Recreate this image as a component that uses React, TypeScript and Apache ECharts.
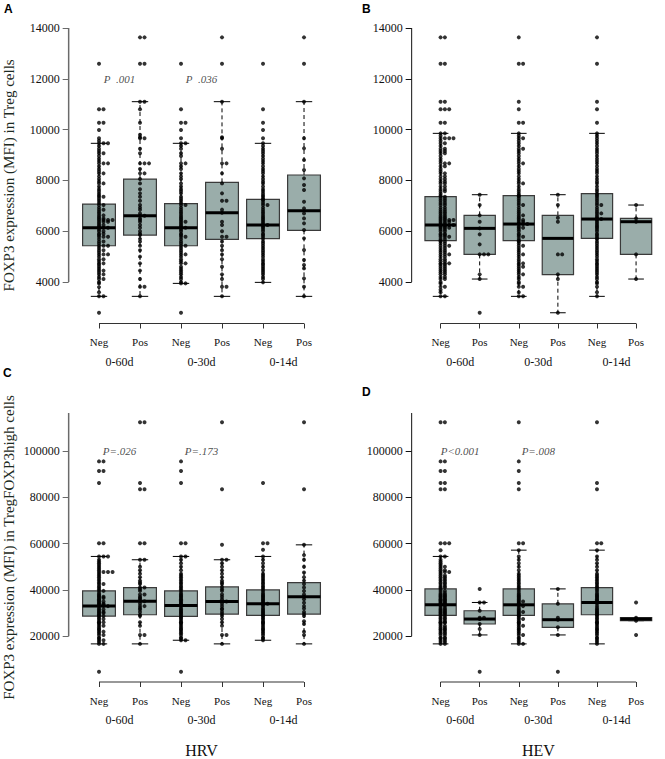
import React, { useEffect, useRef } from "react";
import * as echarts from "echarts";

// ---------- categories / ticks ----------
const CAT_POS = [1, 2, 3, 4, 5, 6];
const CAT_LABELS = ["Neg", "Pos", "Neg", "Pos", "Neg", "Pos"];
const PERIODS = ["0-60d", "0-30d", "0-14d"];
const PERIOD_POS = [1.5, 3.5, 5.5];
const TICKS_AB = [4000, 6000, 8000, 10000, 12000, 14000];
const TICKS_CD = [20000, 40000, 60000, 80000, 100000];

// ---------- box statistics (lower whisker, Q1, median, Q3, upper whisker) ----------
const A_LOW = [3437, 3437, 3947, 3437, 3987, 3437];
const A_Q1 = [5429, 5850, 5429, 5680, 5706, 6034];
const A_MED = [6138, 6612, 6138, 6730, 6244, 6808];
const A_Q3 = [7071, 8055, 7084, 7924, 7254, 8213];
const A_HIGH = [9461, 11100, 9461, 11100, 9461, 11100];

const B_LOW = [3437, 4118, 3437, 2791, 3437, 4118];
const B_Q1 = [5627, 5089, 5627, 4289, 5719, 5089];
const B_MED = [6244, 6113, 6283, 5719, 6480, 6375];
const B_Q3 = [7360, 6625, 7399, 6625, 7478, 6506];
const B_HIGH = [9853, 7438, 9853, 7438, 9853, 7031];

const C_LOW = [16714, 16714, 18286, 16714, 18286, 16714];
const C_Q1 = [28714, 29286, 28571, 29571, 29000, 29571];
const C_MED = [33000, 35143, 33286, 35000, 34000, 37000];
const C_Q3 = [39571, 41000, 39571, 41286, 40000, 43143];
const C_HIGH = [54429, 53000, 54429, 53000, 54429, 59429];

const D_LOW = [16714, 20571, 16714, 20571, 16714, 26714];
const D_Q1 = [29000, 25286, 29000, 23857, 29286, 26714];
const D_MED = [33571, 27429, 33571, 27143, 34571, 27429];
const D_Q3 = [40429, 31000, 40429, 34000, 41000, 28000];
const D_HIGH = [54429, 34571, 57143, 40429, 57143, 28000];

// ---------- individual observations ----------
const A_NEG60 = [2791, 3437, 3437, 3600, 3800, 3947, 4000, 4118, 4118, 4200, 4302, 4302, 4380, 4450, 4450, 4520, 4600, 4680, 4735, 4735, 4820, 4900, 4900, 5000, 5089, 5089, 5089, 5170, 5250, 5250, 5340, 5429, 5429, 5429, 5520, 5600, 5600, 5690, 5785, 5785, 5785, 5850, 5900, 5900, 6000, 6000, 6070, 6138, 6138, 6138, 6190, 6244, 6244, 6310, 6375, 6375, 6375, 6440, 6440, 6440, 6440, 6500, 6500, 6560, 6625, 6625, 6703, 6770, 6850, 6850, 6930, 7031, 7031, 7110, 7200, 7280, 7360, 7360, 7420, 7491, 7570, 7650, 7760, 7884, 7884, 7960, 8055, 8160, 8278, 8278, 8360, 8450, 8560, 8672, 8672, 8672, 8760, 8850, 8960, 9066, 9066, 9160, 9250, 9360, 9461, 9461, 9461, 9560, 9657, 9984, 10273, 10273, 10798, 10798, 12594];
const A_POS60 = [3437, 3815, 3815, 4118, 4450, 4735, 5000, 5250, 5429, 5600, 5700, 5850, 5900, 6000, 6138, 6244, 6375, 6440, 6500, 6612, 6612, 6703, 6850, 6930, 7031, 7200, 7360, 7491, 7650, 7884, 8055, 8278, 8278, 8450, 8672, 8672, 8672, 9066, 9250, 9657, 9657, 9700, 9800, 10273, 10798, 11100, 11100, 12594, 12594, 13632, 13632];
const A_NEG30 = [2791, 3947, 3947, 4000, 4118, 4200, 4302, 4380, 4450, 4520, 4600, 4735, 4735, 4820, 4900, 5000, 5089, 5089, 5170, 5250, 5340, 5429, 5429, 5520, 5600, 5690, 5785, 5785, 5850, 5900, 6000, 6070, 6138, 6138, 6190, 6244, 6310, 6375, 6375, 6440, 6500, 6560, 6625, 6703, 6770, 6850, 6930, 7031, 7031, 7110, 7200, 7280, 7360, 7491, 7570, 7650, 7760, 7884, 8055, 8160, 8278, 8450, 8560, 8672, 8672, 8960, 9066, 9250, 9360, 9461, 9461, 9657, 9984, 10273, 10273, 10798, 12594];
const A_POS30 = [3437, 3815, 3815, 4118, 4302, 4600, 4900, 5089, 5250, 5429, 5600, 5785, 5785, 6000, 6244, 6375, 6730, 6850, 7200, 7200, 7491, 7884, 8278, 8672, 8672, 9250, 9657, 9700, 11100, 12594, 13632];
const A_NEG14 = [3987, 4118, 4200, 4302, 4380, 4450, 4520, 4600, 4680, 4735, 4820, 4900, 5000, 5089, 5170, 5250, 5340, 5429, 5520, 5600, 5706, 5785, 5850, 5900, 6000, 6070, 6138, 6190, 6244, 6244, 6310, 6375, 6440, 6500, 6560, 6625, 6703, 6770, 6850, 6930, 7031, 7031, 7110, 7200, 7254, 7280, 7360, 7420, 7491, 7570, 7650, 7760, 7884, 7960, 8055, 8160, 8278, 8360, 8450, 8560, 8672, 8760, 8850, 8960, 9066, 9160, 9250, 9360, 9461, 9657, 9984, 10273, 10798, 12594];
const A_POS14 = [3437, 3815, 4144, 4538, 4669, 4866, 5260, 5719, 6047, 6310, 6506, 6703, 6900, 7163, 7622, 7819, 8081, 8409, 8803, 9262, 9657, 11100, 12594, 13632];

const B_NEG60 = [3437, 3437, 3600, 3700, 3815, 3815, 3947, 4000, 4118, 4118, 4200, 4200, 4302, 4302, 4380, 4380, 4450, 4450, 4520, 4520, 4600, 4600, 4680, 4680, 4735, 4735, 4735, 4820, 4820, 4900, 4900, 5000, 5000, 5089, 5089, 5089, 5170, 5170, 5250, 5250, 5340, 5340, 5429, 5429, 5429, 5520, 5520, 5600, 5600, 5627, 5690, 5690, 5785, 5785, 5785, 5850, 5850, 5900, 5900, 6000, 6000, 6070, 6070, 6138, 6138, 6138, 6190, 6190, 6244, 6244, 6244, 6244, 6310, 6310, 6375, 6375, 6375, 6440, 6440, 6440, 6440, 6500, 6500, 6560, 6560, 6625, 6625, 6703, 6703, 6770, 6770, 6850, 6850, 6930, 6930, 7031, 7031, 7110, 7110, 7200, 7200, 7280, 7280, 7360, 7360, 7420, 7491, 7570, 7570, 7650, 7650, 7760, 7760, 7884, 7884, 7960, 7960, 8055, 8055, 8160, 8160, 8278, 8278, 8360, 8450, 8560, 8560, 8672, 8672, 8672, 8760, 8850, 8960, 9066, 9066, 9160, 9160, 9250, 9250, 9360, 9461, 9461, 9560, 9657, 9657, 9657, 9657, 9760, 9853, 9853, 10273, 10273, 10798, 10798, 10798, 11100, 11100, 12594, 12594, 13632, 13632];
const B_POS60 = [2791, 4118, 4302, 5089, 5089, 5089, 5483, 5877, 6113, 6375, 6625, 7031, 7438];
const B_NEG30 = [3437, 3437, 3600, 3815, 3815, 3947, 4000, 4118, 4200, 4302, 4302, 4380, 4450, 4520, 4600, 4600, 4680, 4735, 4735, 4820, 4900, 5000, 5089, 5089, 5170, 5250, 5340, 5429, 5429, 5520, 5600, 5627, 5690, 5785, 5785, 5850, 5900, 6000, 6070, 6138, 6138, 6190, 6283, 6283, 6283, 6310, 6375, 6375, 6440, 6440, 6500, 6560, 6625, 6625, 6703, 6770, 6850, 6930, 7031, 7031, 7110, 7200, 7280, 7360, 7399, 7420, 7491, 7570, 7650, 7760, 7884, 7884, 7960, 8055, 8160, 8278, 8360, 8450, 8560, 8672, 8672, 8760, 8850, 8960, 9066, 9160, 9250, 9250, 9360, 9461, 9560, 9657, 9657, 9760, 9853, 10273, 10273, 10798, 11100, 12594, 12594, 13632];
const B_POS30 = [2791, 4118, 4302, 5089, 5089, 6375, 6533, 7031, 7438];
const B_NEG14 = [3437, 3600, 3815, 3947, 4000, 4118, 4200, 4302, 4380, 4450, 4520, 4600, 4680, 4735, 4820, 4900, 5000, 5089, 5170, 5250, 5340, 5429, 5520, 5600, 5690, 5719, 5785, 5850, 5900, 6000, 6070, 6138, 6190, 6244, 6310, 6375, 6440, 6480, 6480, 6500, 6560, 6625, 6703, 6703, 6770, 6850, 6930, 7031, 7031, 7110, 7200, 7280, 7360, 7420, 7478, 7570, 7650, 7760, 7884, 7960, 8055, 8160, 8278, 8360, 8450, 8560, 8672, 8760, 8850, 8960, 9066, 9160, 9250, 9360, 9461, 9560, 9657, 9760, 9853, 10273, 10798, 11100, 12594, 13632];
const B_POS14 = [4118, 5089, 6375, 6506, 7031];

const C_NEG60 = [4714, 16714, 16714, 17500, 18286, 18286, 19000, 19500, 20571, 20571, 21300, 22000, 22000, 22700, 23143, 23800, 24500, 24500, 25286, 25800, 26000, 26000, 26700, 27429, 27429, 28000, 28714, 28714, 29000, 29500, 30000, 30000, 30500, 30500, 31000, 31500, 31500, 32200, 33000, 33000, 33000, 33600, 33600, 34000, 34000, 34500, 35000, 35000, 35500, 36000, 36500, 36500, 37000, 37000, 37500, 38000, 38700, 39571, 39571, 40300, 41000, 41700, 42500, 42500, 43200, 44000, 44700, 45500, 46200, 47000, 47714, 47714, 47714, 47714, 48500, 49200, 50000, 50700, 51500, 52200, 53000, 54429, 54429, 54429, 60143, 60143, 86143, 91286, 91286, 95429, 95429];
const C_POS60 = [16714, 20571, 20571, 24500, 26000, 28714, 29286, 30500, 31500, 32200, 33000, 33000, 34000, 35143, 35143, 36000, 36500, 37000, 38000, 38000, 39571, 40300, 41000, 41000, 42500, 43200, 44000, 45500, 47000, 48500, 50000, 53000, 53000, 60143, 60143, 83429, 83429, 86143, 112286, 112286];
const C_NEG30 = [4714, 18286, 18286, 19000, 19500, 20571, 21300, 22000, 22700, 23143, 23800, 24500, 25286, 25800, 26000, 26700, 27429, 28000, 28571, 28714, 29500, 30000, 30500, 31000, 31500, 32200, 33000, 33286, 33600, 34000, 34500, 35000, 35500, 36000, 36500, 37000, 37500, 38000, 38700, 39571, 40300, 41000, 41700, 42500, 43200, 44000, 44700, 45500, 46200, 47000, 48500, 50000, 51500, 53000, 54429, 54429, 60143, 60143, 86143, 91286, 95429];
const C_POS30 = [16714, 20571, 20571, 24500, 26000, 27429, 28714, 29571, 30500, 31500, 32000, 33000, 34000, 35000, 35000, 36000, 37000, 38000, 39571, 40300, 41286, 42500, 43200, 44000, 45500, 47000, 48500, 50000, 51500, 53000, 53000, 59429, 83429, 112286];
const C_NEG14 = [18286, 19000, 19500, 20571, 21300, 22000, 22700, 23143, 23800, 24500, 25286, 25800, 26000, 26700, 27429, 28000, 28714, 29000, 29500, 30000, 30500, 31000, 31500, 32200, 33000, 33600, 34000, 34000, 34500, 35000, 35500, 36000, 36500, 37000, 37500, 38000, 38700, 39571, 40300, 41000, 41700, 42500, 43200, 44000, 44700, 45500, 46200, 47000, 48500, 50000, 51500, 53000, 54429, 57286, 60143, 60143, 86143];
const C_POS14 = [16714, 20571, 22000, 25286, 26500, 28714, 29571, 30500, 32000, 33000, 34500, 36000, 37000, 38000, 39500, 41000, 42500, 44000, 45500, 47500, 50000, 53000, 55000, 59429, 83429, 112286];

const D_NEG60 = [16714, 16714, 17500, 17500, 18286, 18286, 19000, 19000, 19500, 19500, 20571, 20571, 21300, 21300, 22000, 22000, 22700, 22700, 23143, 23143, 23800, 23800, 24500, 24500, 25286, 25800, 25800, 26000, 26000, 26700, 26700, 27429, 27429, 28000, 28000, 28714, 28714, 29500, 29500, 30000, 30000, 30500, 30500, 31000, 31000, 31500, 31500, 32200, 32200, 33000, 33000, 33571, 33571, 34000, 34000, 34500, 34500, 35000, 35000, 35500, 35500, 36000, 36000, 36500, 36500, 37000, 37000, 37500, 37500, 38000, 38000, 38700, 38700, 39571, 39571, 40429, 41000, 41000, 41700, 41700, 42500, 42500, 43200, 43200, 44000, 44000, 44700, 44700, 45500, 45500, 46200, 46200, 47000, 47714, 47714, 47714, 48500, 48500, 49200, 50000, 50000, 50700, 51500, 52200, 53000, 54429, 54429, 57143, 60143, 60143, 60143, 83429, 83429, 86143, 86143, 91286, 91286, 95429, 95429, 112286, 112286];
const D_POS60 = [4714, 20571, 23143, 25286, 27429, 28000, 28000, 31000, 34571, 34571, 40429];
const D_NEG30 = [16714, 16714, 17500, 18286, 19000, 19500, 20571, 20571, 21300, 22000, 22700, 23143, 23800, 24500, 24500, 25286, 25800, 26000, 26700, 27429, 27429, 28000, 28714, 29000, 29500, 30000, 30500, 30500, 31000, 31500, 32200, 33000, 33000, 33571, 34000, 34500, 35000, 35000, 35500, 36000, 36500, 37000, 37500, 38000, 38700, 39571, 40429, 41000, 41700, 42500, 43200, 44000, 44700, 45500, 46200, 47000, 48500, 50000, 51500, 53000, 54429, 57143, 60143, 60143, 83429, 86143, 91286, 95429, 112286];
const D_POS30 = [4714, 20571, 23857, 27143, 28000, 34000, 40429];
const D_NEG14 = [16714, 17500, 18286, 19000, 19500, 20571, 21300, 22000, 22700, 23143, 23800, 24500, 25286, 25800, 26000, 26700, 27429, 28000, 28714, 29286, 29500, 30000, 30500, 31000, 31500, 32200, 33000, 34000, 34571, 35000, 35500, 36000, 36500, 37000, 37500, 38000, 38700, 39571, 40300, 41000, 41700, 42500, 43200, 44000, 44700, 45500, 46200, 47000, 48500, 50000, 51500, 53000, 54429, 57143, 60143, 60143, 83429, 86143, 112286];
const D_POS14 = [20571, 26714, 27429, 28000, 34571];

// ---------- annotations ----------
const A_P = ["P  .001", "P  .036"];
const C_P = ["P=.026", "P=.173"];
const D_P = ["P<0.001", "P=.008"];
const P_POS = [1.5, 3.5];

// ---------- styling / layout ----------
const X_MIN = 0.26;
const X_MAX = 6.74;
const BOX_WIDTH = 0.8;
const STACK_STEP = 0.11;
const BOX_FILL = "#9aadaa";
const SERIF = "Liberation Serif";

type Panel = {
  letter: string;
  letterX: number;
  letterY: number;
  left: number;
  top: number;
  width: number;
  height: number;
  yMin: number;
  yMax: number;
  ticks: number[];
  axisTop: number;
  title: string | null;
  stats: number[][];
  groups: number[][];
  pLabels: string[] | null;
  pY: number;
  virus: string | null;
  yAxisColor: string;
  yAxisWidth: number;
};

const PANELS: Panel[] = [
  {
    letter: "A", letterX: 4, letterY: 3,
    left: 68.66, top: 27.2, width: 265.7, height: 296.3,
    yMin: 2368, yMax: 14032, ticks: TICKS_AB, axisTop: 14000,
    title: "FOXP3 expression (MFI) in Treg cells",
    stats: [A_LOW, A_Q1, A_MED, A_Q3, A_HIGH],
    groups: [A_NEG60, A_POS60, A_NEG30, A_POS30, A_NEG14, A_POS14],
    pLabels: A_P, pY: 12000, virus: null, yAxisColor: "#6a6a6a", yAxisWidth: 1.5,
  },
  {
    letter: "B", letterX: 362, letterY: 3,
    left: 411.66, top: 27.2, width: 265.7, height: 296.3,
    yMin: 2368, yMax: 14032, ticks: TICKS_AB, axisTop: 14000,
    title: null,
    stats: [B_LOW, B_Q1, B_MED, B_Q3, B_HIGH],
    groups: [B_NEG60, B_POS60, B_NEG30, B_POS30, B_NEG14, B_POS14],
    pLabels: null, pY: 12000, virus: null, yAxisColor: "#111", yAxisWidth: 1,
  },
  {
    letter: "C", letterX: 3, letterY: 367,
    left: 68.66, top: 413, width: 265.7, height: 272,
    yMin: 273, yMax: 116297, ticks: TICKS_CD, axisTop: 116297,
    title: "FOXP3 expression (MFI) in TregFOXP3high cells",
    stats: [C_LOW, C_Q1, C_MED, C_Q3, C_HIGH],
    groups: [C_NEG60, C_POS60, C_NEG30, C_POS30, C_NEG14, C_POS14],
    pLabels: C_P, pY: 100000, virus: "HRV", yAxisColor: "#6a6a6a", yAxisWidth: 1.5,
  },
  {
    letter: "D", letterX: 362, letterY: 386,
    left: 411.66, top: 413, width: 265.7, height: 272,
    yMin: 273, yMax: 116297, ticks: TICKS_CD, axisTop: 116297,
    title: null,
    stats: [D_LOW, D_Q1, D_MED, D_Q3, D_HIGH],
    groups: [D_NEG60, D_POS60, D_NEG30, D_POS30, D_NEG14, D_POS14],
    pLabels: D_P, pY: 100000, virus: "HEV", yAxisColor: "#111", yAxisWidth: 1,
  },
];

function stackPoints(pos: number, values: number[]): number[][] {
  const seen = new Map<number, number>();
  return values.map((v) => {
    const k = seen.get(v) || 0;
    seen.set(v, k + 1);
    return [pos + k * STACK_STEP, v];
  });
}

function renderBox(params: any, api: any) {
  const x = api.value(0);
  const lo = api.coord([x, api.value(1)]);
  const q1 = api.coord([x, api.value(2)]);
  const md = api.coord([x, api.value(3)]);
  const q3 = api.coord([x, api.value(4)]);
  const hi = api.coord([x, api.value(5)]);
  const w = api.size([BOX_WIDTH, 0])[0];
  const cx = md[0];
  const dash = { stroke: "#000", lineWidth: 1, lineDash: [4, 3] };
  const solid = { stroke: "#000", lineWidth: 1 };
  return {
    type: "group",
    children: [
      { type: "line", shape: { x1: cx, y1: q3[1], x2: cx, y2: hi[1] }, style: dash },
      { type: "line", shape: { x1: cx, y1: q1[1], x2: cx, y2: lo[1] }, style: dash },
      { type: "line", shape: { x1: cx - w / 4, y1: hi[1], x2: cx + w / 4, y2: hi[1] }, style: solid },
      { type: "line", shape: { x1: cx - w / 4, y1: lo[1], x2: cx + w / 4, y2: lo[1] }, style: solid },
      {
        type: "rect",
        shape: { x: cx - w / 2, y: q3[1], width: w, height: q1[1] - q3[1] },
        style: { fill: BOX_FILL, stroke: "#3a3a3a", lineWidth: 1.2 },
      },
      {
        type: "line",
        shape: { x1: cx - w / 2, y1: md[1], x2: cx + w / 2, y2: md[1] },
        style: { stroke: "#000", lineWidth: 3 },
      },
    ],
  };
}

function buildOption() {
  const grid: any[] = [];
  const xAxis: any[] = [];
  const yAxis: any[] = [];
  const series: any[] = [];
  const graphic: any[] = [];

  PANELS.forEach((p, i) => {
    grid.push({ left: p.left, top: p.top, width: p.width, height: p.height });
    xAxis.push({
      type: "value", gridIndex: i, min: X_MIN, max: X_MAX,
      axisLine: { show: false },
      splitLine: { show: false },
      axisTick: { show: true, customValues: CAT_POS, length: 5, lineStyle: { color: "#333", width: 1 } },
      axisLabel: {
        customValues: CAT_POS, margin: 13, fontSize: 11, color: "#111", fontFamily: SERIF,
        formatter: (v: number) => CAT_LABELS[CAT_POS.indexOf(Math.round(v))] || "",
      },
    });
    xAxis.push({
      type: "value", gridIndex: i, min: X_MIN, max: X_MAX, position: "bottom",
      axisLine: { show: false }, axisTick: { show: false }, splitLine: { show: false },
      axisLabel: {
        customValues: PERIOD_POS, margin: 32, fontSize: 12, color: "#111", fontFamily: SERIF,
        formatter: (v: number) => PERIODS[PERIOD_POS.indexOf(v)] || "",
      },
      name: p.virus || "",
      nameLocation: "middle",
      nameGap: 60,
      nameTextStyle: { fontSize: 16, color: "#111", fontFamily: SERIF },
    });
    yAxis.push({
      type: "value", gridIndex: i, min: p.yMin, max: p.yMax,
      axisLine: { show: false },
      splitLine: { show: false },
      axisTick: { show: true, customValues: p.ticks, length: 6, lineStyle: { color: p.yAxisColor, width: 1 } },
      axisLabel: {
        customValues: p.ticks, margin: 9, fontSize: 12, color: "#111", fontFamily: SERIF,
        formatter: (v: number) => String(v),
      },
      name: p.title || "",
      nameLocation: "middle",
      nameRotate: 90,
      nameGap: 52,
      nameTextStyle: { fontSize: 15, color: "#1c2a22", fontFamily: SERIF },
    });

    const xi = i * 2;
    series.push({
      type: "line", xAxisIndex: xi, yAxisIndex: i, silent: true, clip: false, symbol: "none",
      lineStyle: { color: p.yAxisColor, width: p.yAxisWidth },
      data: [[X_MIN, p.ticks[0]], [X_MIN, p.axisTop]], z: 1,
    });
    series.push({
      type: "line", xAxisIndex: xi, yAxisIndex: i, silent: true, clip: false, symbol: "none",
      lineStyle: { color: "#333", width: 1.2 },
      data: [[CAT_POS[0], p.yMin], [CAT_POS[CAT_POS.length - 1], p.yMin]], z: 1,
    });
    series.push({
      type: "custom", xAxisIndex: xi, yAxisIndex: i, silent: true,
      renderItem: renderBox,
      encode: { x: 0, y: [1, 2, 3, 4, 5] },
      data: CAT_POS.map((pos, g) => [pos, p.stats[0][g], p.stats[1][g], p.stats[2][g], p.stats[3][g], p.stats[4][g]]),
      z: 2,
    });
    const pts: number[][] = [];
    p.groups.forEach((vals, g) => pts.push(...stackPoints(CAT_POS[g], vals)));
    series.push({
      type: "scatter", xAxisIndex: xi, yAxisIndex: i, silent: true,
      symbol: "circle", symbolSize: 4,
      itemStyle: { color: "#000" },
      data: pts, z: 3,
    });
    if (p.pLabels) {
      series.push({
        type: "scatter", xAxisIndex: xi, yAxisIndex: i, silent: true,
        symbolSize: 0,
        label: {
          show: true, position: "inside", formatter: (d: any) => d.name,
          fontSize: 11, fontStyle: "italic", color: "#1a1a1a", fontFamily: SERIF,
        },
        data: p.pLabels.map((t, k) => ({ name: t, value: [P_POS[k], p.pY] })),
        z: 4,
      });
    }
    graphic.push({
      type: "text", left: p.letterX, top: p.letterY,
      style: { text: p.letter, font: "bold 12px 'Liberation Sans', Arial, sans-serif", fill: "#000" },
    });
  });

  return {
    animation: false,
    backgroundColor: "#fff",
    textStyle: { fontFamily: SERIF },
    grid, xAxis, yAxis, series, graphic,
  };
}

export default function App() {
  const ref = useRef<HTMLDivElement>(null);
  useEffect(() => {
    if (!ref.current) return;
    const chart = echarts.init(ref.current, null, { renderer: "svg" });
    chart.setOption(buildOption() as any);
    return () => chart.dispose();
  }, []);
  return (
    <div
      ref={ref}
      style={{ position: "absolute", left: 0, top: 0, width: 665, height: 759, background: "#fff" }}
    />
  );
}
